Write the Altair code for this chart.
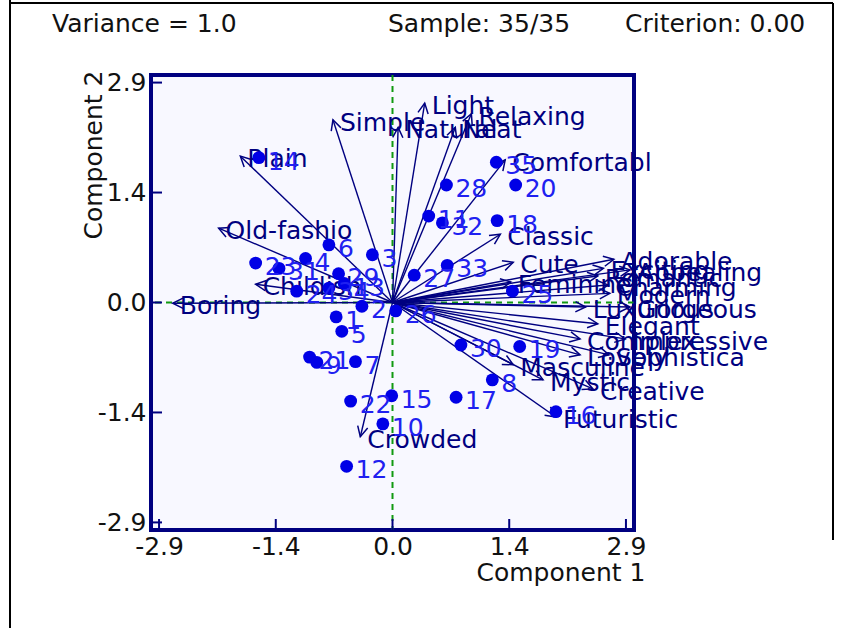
import math
import altair as alt
import pandas as pd

# ---- data ----
sample_ids = [str(i) for i in range(1, 36)]
sample_x = [-0.70, -0.38, -0.25, -1.08, -0.63, -0.79, -0.46, 1.24, -0.94, -0.12,
            0.45, -0.57, -0.60, -1.66, -0.01, 2.03, 0.79, 1.30, 1.58, 1.53,
            -1.03, -0.52, -1.70, -1.19, 1.49, 0.04, 0.27, 0.67, -0.67, 0.85,
            -1.41, 0.62, 0.68, -0.79, 1.29]
sample_y = [-0.19, -0.05, 0.63, 0.58, -0.38, 0.76, -0.78, -1.02, -0.79, -1.60,
            1.14, -2.16, 0.25, 1.91, -1.23, -1.44, -1.25, 1.08, -0.58, 1.55,
            -0.72, -1.30, 0.52, 0.15, 0.15, -0.11, 0.36, 1.55, 0.38, -0.56,
            0.45, 1.05, 0.49, 0.19, 1.85]

attr_names = ["Boring", "Old-fashio", "Plain", "Childish", "Simple", "Light",
              "Natural", "Neat", "Relaxing", "Comfortabl", "Classic", "Cute",
              "Adorable", "Appealing", "Exciting", "Romantic", "Charming",
              "Feminine", "Modern", "Luxurious", "Gorgeous", "Elegant",
              "Impressive", "Complex", "Sophistica", "Lovely", "Masculine",
              "Mystic", "Creative", "Futuristic", "Crowded"]
attr_x = [-2.73, -2.16, -1.89, -1.70, -0.74, 0.40,
          0.07, 0.78, 0.98, 1.40, 1.34, 1.50,
          2.75, 2.95, 2.62, 2.55, 2.68,
          1.47, 2.70, 2.40, 2.95, 2.55,
          2.89, 2.33, 2.69, 2.33, 1.50,
          1.87, 2.49, 2.03, -0.40]
attr_y = [-0.01, 0.98, 1.93, 0.24, 2.41, 2.63,
          2.31, 2.31, 2.49, 1.88, 0.90, 0.53,
          0.57, 0.43, 0.45, 0.35, 0.23,
          0.27, 0.12, -0.06, -0.06, -0.28,
          -0.48, -0.48, -0.69, -0.69, -0.82,
          -1.02, -1.14, -1.51, -1.77]

tick_values = [-2.9, -1.45, 0.0, 1.45, 2.9]
tick_labels = ["-2.9", "-1.4", "0.0", "1.4", "2.9"]

header_left = "Variance = 1.0"
header_mid = "Sample: 35/35"
header_right = "Criterion: 0.00"

# ---- layout / style ----
W, H = 483, 455
DOM = [-3.0, 3.0]
NAVY = "#000080"
FONT = "DejaVu Sans"
FS = 25

px_x = W / (DOM[1] - DOM[0])
px_y = H / (DOM[1] - DOM[0])

samples = pd.DataFrame({"id": sample_ids, "x": sample_x, "y": sample_y})
attrs = pd.DataFrame({"name": attr_names, "x": attr_x, "y": attr_y})
attrs["x0"] = 0.0
attrs["y0"] = 0.0
attrs["angle"] = [(math.degrees(math.atan2(-yy * px_y, xx * px_x)) + 360) % 360
                  for xx, yy in zip(attr_x, attr_y)]
ticks = pd.DataFrame({"v": tick_values})
zero = pd.DataFrame({"v": [0.0]})
one = pd.DataFrame({"t": [""]})

label_expr = "[" + ",".join("'%s'" % s for s in tick_labels) + "][indexof([" + \
    ",".join(repr(v) for v in tick_values) + "], datum.value)]"

xs = alt.Scale(domain=DOM, nice=False, zero=False)
ys = alt.Scale(domain=DOM, nice=False, zero=False)

x_axis = alt.Axis(values=tick_values, labelExpr=label_expr, ticks=False, domain=False,
                  grid=False, labelFont=FONT, labelFontSize=FS, labelColor="#111111",
                  labelPadding=4, labelFlush=False, labelOverlap=False,
                  title="Component 1", titleFont=FONT, titleFontSize=FS,
                  titleFontWeight="normal", titleColor="#111111", titleAlign="right",
                  titleBaseline="alphabetic", titleX=494, titleY=50)
y_axis = alt.Axis(values=tick_values, labelExpr=label_expr, ticks=False, domain=False,
                  grid=False, labelFont=FONT, labelFontSize=FS, labelColor="#111111",
                  labelPadding=5, labelFlush=False, labelOverlap=False,
                  title="Component 2", titleFont=FONT, titleFontSize=FS,
                  titleFontWeight="normal", titleColor="#111111", titleAngle=270,
                  titleAlign="right", titleBaseline="alphabetic", titleX=-50, titleY=-5)

base_x = alt.X("x:Q", scale=xs, axis=x_axis)
base_y = alt.Y("y:Q", scale=ys, axis=y_axis)

vzero = alt.Chart(zero).mark_rule(color="#119911", strokeWidth=2, strokeDash=[6, 5]).encode(
    x=alt.X("v:Q", scale=xs, axis=x_axis))
hzero = alt.Chart(zero).mark_rule(color="#119911", strokeWidth=2, strokeDash=[6, 5]).encode(
    y=alt.Y("v:Q", scale=ys, axis=y_axis))

left_ticks = alt.Chart(ticks).mark_rule(color=NAVY, strokeWidth=2).encode(
    y=alt.Y("v:Q", scale=ys, axis=y_axis), x=alt.value(0), x2=alt.value(11))
bottom_ticks = alt.Chart(ticks).mark_rule(color=NAVY, strokeWidth=2).encode(
    x=alt.X("v:Q", scale=xs, axis=x_axis), y=alt.value(H), y2=alt.value(H - 11))

shafts = alt.Chart(attrs).mark_rule(color=NAVY, strokeWidth=1.4).encode(
    x=alt.X("x0:Q", scale=xs, axis=x_axis), y=alt.Y("y0:Q", scale=ys, axis=y_axis),
    x2="x:Q", y2="y:Q")

heads = alt.Chart(attrs).mark_point(shape="M-1,-0.5L0,0L-1,0.5", filled=False, size=420,
                                    strokeWidth=1.5, color=NAVY, opacity=1).encode(
    x=base_x, y=base_y, angle=alt.Angle("angle:Q", scale=None))

attr_labels = alt.Chart(attrs).mark_text(align="left", baseline="middle", dx=7, dy=3,
                                         font=FONT, fontSize=FS, color=NAVY).encode(
    x=base_x, y=base_y, text="name:N")

dots = alt.Chart(samples).mark_circle(size=165, color="#0000e6", opacity=1).encode(
    x=base_x, y=base_y)

dot_labels = alt.Chart(samples).mark_text(align="left", baseline="middle", dx=9, dy=4,
                                          font=FONT, fontSize=FS, color="#2020f0").encode(
    x=base_x, y=base_y, text="id:N")

hdr_style = dict(align="left", baseline="alphabetic", font=FONT, fontSize=FS, color="#111111")
h1 = alt.Chart(pd.DataFrame({"t": [header_left]})).mark_text(**hdr_style).encode(
    x=alt.value(-99), y=alt.value(-43), text="t:N")
h2 = alt.Chart(pd.DataFrame({"t": [header_mid]})).mark_text(**hdr_style).encode(
    x=alt.value(237), y=alt.value(-43), text="t:N")
h3 = alt.Chart(pd.DataFrame({"t": [header_right]})).mark_text(**hdr_style).encode(
    x=alt.value(474), y=alt.value(-43), text="t:N")

border_l = alt.Chart(one).mark_rule(color="#000000", strokeWidth=2).encode(
    x=alt.value(-141), y=alt.value(-75), y2=alt.value(560))
border_t = alt.Chart(one).mark_rule(color="#000000", strokeWidth=2).encode(
    x=alt.value(-141), x2=alt.value(682), y=alt.value(-72))
border_r = alt.Chart(one).mark_rule(color="#000000", strokeWidth=2).encode(
    x=alt.value(682), y=alt.value(-72), y2=alt.value(465))

chart = alt.layer(
    vzero, hzero, left_ticks, bottom_ticks, shafts, heads, attr_labels, dots, dot_labels,
    h1, h2, h3, border_l, border_t, border_r
).properties(
    width=W, height=H,
    background="#ffffff",
    autosize=alt.AutoSizeParams(type="none"),
    padding={"left": 151, "top": 75, "right": 846 - 151 - W, "bottom": 628 - 75 - H},
).configure_view(
    stroke=NAVY, strokeWidth=4, fill="#f8f8ff"
)

chart.save("out.html", embed_options={"renderer": "svg", "actions": False})
